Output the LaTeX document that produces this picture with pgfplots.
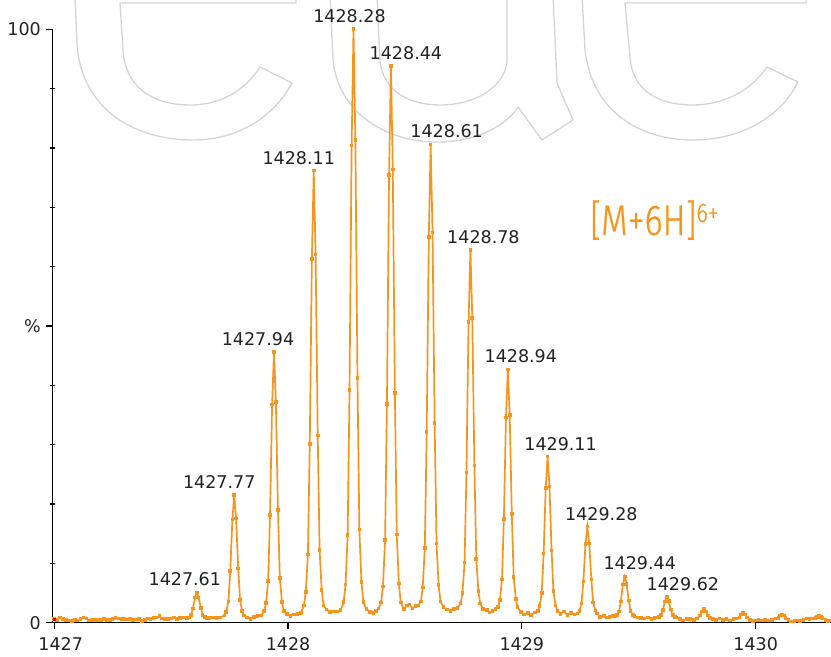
\documentclass[border=0pt]{standalone}
\usepackage{fontspec}
\usepackage{pgfplots}
\pgfplotsset{compat=1.18}
\setmainfont{DejaVu Sans}
\IfFontExistsTF{Fira Sans Light}
  {\newfontfamily\ionfont[FakeStretch=0.8,FakeBold=0.6]{Fira Sans Light}}
  {\newfontfamily\ionfont[FakeStretch=0.8]{Fira Sans}}
\definecolor{msorange}{RGB}{247,148,29}
\definecolor{wmgray}{RGB}{212,212,212}
\definecolor{labelgray}{RGB}{34,34,34}

% isotope envelope of the 6+ charge state (m/z, relative intensity %)
\pgfplotstableread{
mz intensity
1427.000 0.6
1427.012 0.5
1427.025 0.9
1427.038 0.6
1427.050 0.5
1427.062 0.4
1427.075 0.3
1427.088 0.5
1427.100 0.4
1427.112 0.6
1427.125 0.9
1427.138 0.7
1427.150 0.35
1427.162 0.45
1427.175 0.5
1427.188 0.45
1427.200 0.5
1427.212 0.6
1427.225 0.5
1427.238 0.45
1427.250 0.6
1427.262 0.8
1427.275 0.7
1427.288 0.6
1427.300 0.65
1427.312 0.55
1427.325 0.6
1427.338 0.5
1427.350 0.55
1427.362 0.65
1427.375 0.3
1427.388 0.5
1427.400 0.7
1427.412 0.6
1427.425 0.75
1427.438 0.9
1427.450 1.1
1427.462 0.7
1427.475 0.65
1427.488 0.6
1427.500 0.7
1427.512 0.9
1427.525 0.6
1427.538 0.8
1427.550 0.9
1427.560 0.85
1427.568 0.77
1427.576 0.9
1427.585 1.27
1427.593 2.37
1427.602 4.22
1427.610 5.1
1427.618 4.26
1427.627 2.46
1427.635 1.32
1427.644 0.92
1427.652 0.77
1427.665 0.8
1427.680 0.85
1427.695 0.75
1427.710 0.9
1427.728 1.21
1427.736 1.83
1427.745 3.58
1427.753 8.73
1427.762 17.38
1427.770 21.5
1427.778 17.59
1427.787 9.14
1427.795 3.78
1427.804 1.93
1427.812 1.21
1427.825 0.9
1427.840 0.6
1427.855 1.0
1427.870 1.1
1427.885 1.2
1427.898 1.96
1427.906 3.29
1427.915 7.06
1427.923 18.13
1427.932 36.74
1427.940 45.6
1427.948 37.18
1427.957 19.02
1427.965 7.50
1427.974 3.52
1427.982 1.96
1427.995 1.5
1428.010 1.1
1428.025 1.4
1428.040 1.5
1428.055 1.6
1428.068 2.92
1428.076 5.15
1428.085 11.47
1428.093 30.07
1428.102 61.32
1428.110 76.2
1428.118 62.06
1428.127 31.56
1428.135 12.22
1428.144 5.52
1428.152 2.92
1428.165 2.2
1428.180 1.8
1428.195 1.9
1428.210 1.9
1428.225 2.1
1428.238 3.47
1428.246 6.41
1428.255 14.74
1428.263 39.24
1428.272 80.4
1428.280 100.0
1428.288 81.38
1428.297 41.2
1428.305 15.72
1428.314 6.9
1428.322 3.47
1428.335 2.3
1428.350 1.8
1428.365 1.6
1428.375 2.0
1428.387 2.4
1428.398 3.38
1428.406 6.13
1428.415 13.93
1428.423 36.88
1428.432 75.44
1428.440 93.8
1428.448 76.36
1428.457 38.72
1428.465 14.85
1428.474 6.59
1428.482 3.38
1428.495 2.3
1428.508 2.9
1428.520 3.1
1428.532 2.4
1428.545 2.8
1428.557 2.9
1428.568 3.57
1428.576 5.92
1428.585 12.57
1428.593 32.12
1428.602 64.96
1428.610 80.6
1428.618 65.74
1428.627 33.68
1428.635 13.35
1428.644 6.31
1428.652 3.57
1428.665 2.6
1428.680 2.2
1428.695 2.0
1428.710 2.3
1428.725 2.5
1428.738 3.21
1428.746 5.02
1428.755 10.17
1428.763 25.29
1428.772 50.7
1428.780 62.8
1428.788 51.31
1428.797 26.5
1428.805 10.77
1428.814 5.33
1428.822 3.21
1428.835 2.3
1428.850 2.1
1428.862 1.7
1428.875 2.0
1428.887 2.3
1428.898 2.61
1428.906 3.83
1428.915 7.29
1428.923 17.47
1428.932 34.56
1428.940 42.7
1428.948 34.97
1428.957 18.28
1428.965 7.70
1428.974 4.04
1428.982 2.61
1428.995 1.8
1429.010 1.4
1429.025 1.6
1429.040 1.3
1429.055 1.7
1429.068 2.0
1429.076 2.79
1429.085 5.03
1429.093 11.63
1429.102 22.72
1429.110 28.0
1429.118 22.98
1429.127 12.16
1429.135 5.30
1429.144 2.92
1429.152 2.0
1429.165 1.5
1429.180 1.9
1429.195 1.3
1429.210 1.6
1429.225 1.4
1429.238 1.52
1429.246 1.97
1429.255 3.24
1429.263 6.96
1429.272 13.22
1429.280 16.2
1429.288 13.37
1429.297 7.26
1429.305 3.39
1429.314 2.05
1429.322 1.52
1429.335 1.0
1429.350 1.1
1429.362 0.9
1429.375 1.0
1429.387 1.1
1429.398 1.10
1429.406 1.31
1429.415 1.88
1429.423 3.58
1429.432 6.44
1429.440 7.8
1429.448 6.51
1429.457 3.72
1429.465 1.95
1429.474 1.34
1429.482 1.10
1429.495 0.9
1429.510 0.8
1429.525 0.7
1429.540 0.9
1429.555 0.6
1429.567 0.8
1429.578 0.85
1429.586 0.96
1429.595 1.26
1429.603 2.13
1429.612 3.6
1429.620 4.3
1429.628 3.64
1429.637 2.2
1429.645 1.29
1429.654 0.98
1429.662 0.85
1429.675 0.6
1429.690 0.4
1429.705 0.6
1429.720 0.6
1429.735 0.5
1429.750 0.7
1429.763 1.2
1429.771 1.9
1429.779 2.3
1429.787 1.9
1429.795 1.2
1429.805 0.8
1429.818 0.6
1429.830 0.5
1429.845 0.7
1429.860 0.5
1429.875 0.6
1429.890 0.4
1429.905 0.6
1429.918 0.7
1429.930 0.9
1429.938 1.4
1429.946 1.7
1429.954 1.4
1429.962 0.9
1429.975 0.5
1429.988 0.3
1430.000 0.4
1430.012 0.5
1430.025 0.4
1430.040 0.5
1430.055 0.4
1430.070 0.5
1430.085 0.7
1430.097 0.8
1430.105 1.2
1430.112 1.4
1430.120 1.2
1430.128 0.8
1430.140 0.5
1430.152 0.2
1430.165 0.3
1430.178 0.4
1430.190 0.3
1430.205 0.5
1430.218 0.7
1430.230 0.6
1430.245 0.7
1430.255 0.8
1430.263 1.0
1430.270 1.2
1430.278 1.0
1430.286 0.8
1430.298 0.5
1430.310 0.3
1430.322 0.4
}\spectrum

\begin{document}
\begin{tikzpicture}[x=1bp,y=1bp,
  pk/.style={anchor=base, yshift=6.5bp, inner sep=0pt,
    font=\fontsize{17.5bp}{20bp}\selectfont, text=labelgray}]
% outlined logo lettering in the background
\begin{scope}
\clip (0,0) rectangle (831,657);
\begin{scope}[shift={(0,657)},yscale=-1,line width=1.3bp,line join=round]
\draw[wmgray] (75,-5) -- (77,45) .. controls (82,110) and (135,140) .. (193,140)
  .. controls (240,140) and (275,115) .. (292,83) -- (260,67)
  .. controls (245,90) and (222,105) .. (190,105)
  .. controls (150,105) and (125,85) .. (123,50) -- (120,3) -- (296,3) -- (296,-5);
\draw[wmgray] (330,-5) -- (333,60) .. controls (338,112) and (385,142) .. (437,142)
  .. controls (475,142) and (505,127) .. (518,107) -- (542,140) -- (573,120)
  -- (557,83) -- (553,-5);
\draw[wmgray] (377,-5) -- (380,62) .. controls (384,92) and (410,105) .. (440,105)
  .. controls (472,105) and (503,90) .. (507,62) -- (507,-5);
\draw[wmgray] (582,-5) -- (585,50) .. controls (592,112) and (640,140) .. (693,140)
  .. controls (740,140) and (780,118) .. (798,82) -- (767,67)
  .. controls (750,92) and (722,105) .. (693,105)
  .. controls (655,105) and (632,88) .. (630,57) -- (625,3) -- (806,3) -- (806,-5);
\end{scope}
\end{scope}

\begin{axis}[
  at={(52.3bp,34.3bp)}, anchor=south west,
  scale only axis, width=778.7bp, height=593.4bp,
  xmin=1426.992, xmax=1430.322, ymin=0, ymax=100,
  axis x line=bottom, axis y line=left,
  axis line style={-, line width=1.6bp, black},
  xtick={1427,1428,1429,1430},
  xticklabels={\hspace*{13bp}1427,1428,1429,1430},
  ytick={0,50,100}, yticklabels={0,\%,100},
  tick align=outside, major tick length=6bp,
  tick style={black, line width=1.2bp},
  extra y ticks={10,20,30,40,60,70,80,90}, extra y tick labels={},
  extra y tick style={tick align=center, major tick length=4.5bp},
  ticklabel style={font=\fontsize{17.5bp}{20bp}\selectfont, text=labelgray},
  xticklabel style={yshift=-5bp},
  yticklabel style={xshift=-2bp},
  clip=false,
]
\addplot[color=msorange, line width=1.7bp, mark=square*, mark size=0.95bp,
  mark options={solid, fill=msorange}] table[x=mz, y=intensity] {\spectrum};
\addplot[only marks, mark=square*, mark size=1.2bp, color=red!85!black]
  coordinates {(1427.0,0.6)};

\node[pk, xshift=-12bp] at (axis cs:1427.61,5.1) {1427.61};
\node[pk, xshift=-15bp] at (axis cs:1427.77,21.5) {1427.77};
\node[pk, xshift=-16bp] at (axis cs:1427.94,45.6) {1427.94};
\node[pk, xshift=-15bp] at (axis cs:1428.11,76.2) {1428.11};
\node[pk, xshift=-4bp]  at (axis cs:1428.28,100) {1428.28};
\node[pk, xshift=15bp]  at (axis cs:1428.44,93.8) {1428.44};
\node[pk, xshift=16bp]  at (axis cs:1428.61,80.6) {1428.61};
\node[pk, xshift=13bp]  at (axis cs:1428.78,62.8) {1428.78};
\node[pk, xshift=13bp]  at (axis cs:1428.94,42.7) {1428.94};
\node[pk, xshift=13bp]  at (axis cs:1429.11,28.0) {1429.11};
\node[pk, xshift=14bp]  at (axis cs:1429.28,16.2) {1429.28};
\node[pk, xshift=15bp]  at (axis cs:1429.44,7.8) {1429.44};
\node[pk, xshift=16bp]  at (axis cs:1429.62,4.3) {1429.62};
\end{axis}

% charge state annotation
\node[anchor=base west, inner sep=0pt, text=msorange] at (590,422)
  {\ionfont\fontsize{43bp}{43bp}\selectfont [M+6H]\raisebox{13bp}{\fontsize{27bp}{27bp}\selectfont 6+}};

\pgfresetboundingbox
\path[use as bounding box] (0,0) rectangle (831,657);
\end{tikzpicture}
\end{document}
